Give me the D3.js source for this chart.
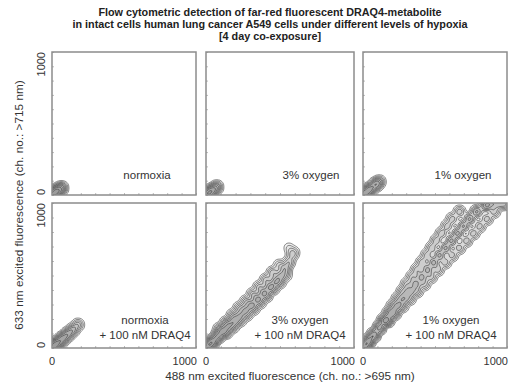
<!DOCTYPE html>
<html>
<head>
<meta charset="utf-8">
<script src="https://cdn.jsdelivr.net/npm/d3@7"></script>
<style>
  body { margin: 0; background: #fff; }
  svg { display: block; font-family: "Liberation Sans", Arial, sans-serif; }
</style>
</head>
<body>
<svg id="chart" width="524" height="385"></svg>
<script>
// ---- data (channel numbers 0..1000) ----
const titleLines = [
  "Flow cytometric detection of far-red fluorescent DRAQ4-metabolite",
  "in intact cells human lung cancer A549 cells under different levels of hypoxia",
  "[4 day co-exposure]"
];
const conditions = ["normoxia", "3% oxygen", "1% oxygen"];
const treatments = ["", "+ 100 nM DRAQ4"];
const tickValues = [0, 1000];
const xTitle = "488 nm excited fluorescence (ch. no.: >695 nm)";
const yTitle = "633 nm excited fluorescence (ch. no.: >715 nm)";

// event clusters: [x ch, y ch, weight]
const ctlNormoxia = [[8, 8, 10], [35, 28, 9], [65, 48, 6]];
const ctl3 = [[8, 5, 10], [40, 30, 9], [72, 55, 5]];
const ctl1 = [[8, 8, 10], [45, 38, 9], [85, 70, 7], [112, 92, 4]];
const draqNormoxia = [[10, 10, 12], [40, 35, 10], [75, 65, 9], [110, 95, 7], [145, 125, 5], [180, 160, 3]];
const draq3 = [
  [15, 15, 10], [45, 45, 9], [80, 80, 8], [115, 115, 7], [150, 150, 6], [190, 185, 6], [230, 225, 5],
  [270, 265, 5], [310, 300, 5], [350, 340, 5], [390, 380, 5], [430, 420, 5], [470, 460, 5], [505, 500, 4],
  [535, 545, 4], [560, 590, 3], [580, 640, 2],
  [90, 130, 3], [135, 175, 3], [180, 225, 3], [225, 275, 3], [270, 320, 3], [315, 370, 3], [360, 420, 3],
  [405, 470, 3], [450, 520, 3], [495, 570, 2],
  [140, 110, 3], [185, 150, 3], [230, 190, 3], [275, 230, 3], [320, 270, 3], [365, 315, 3], [410, 360, 3],
  [455, 410, 3], [500, 455, 3], [540, 500, 2],
  [595, 660, 1.5], [560, 690, 1]
];
const draq1 = [
  [12, 15, 10], [40, 50, 9], [75, 90, 8], [115, 140, 7], [158, 190, 6], [200, 240, 5], [240, 290, 5],
  [282, 340, 5], [324, 390, 5], [365, 440, 5], [407, 490, 5], [448, 540, 5], [490, 590, 5], [531, 640, 5],
  [573, 690, 5], [614, 740, 5], [656, 790, 5], [697, 840, 5], [740, 890, 5], [790, 940, 5], [850, 980, 5],
  [138, 190, 3], [205, 290, 3], [274, 390, 3], [342, 490, 3], [410, 590, 3], [478, 690, 3], [546, 790, 3], [620, 890, 3],
  [178, 190, 3], [275, 290, 3], [374, 390, 3], [472, 490, 3], [570, 590, 3], [668, 690, 3], [766, 790, 3], [860, 890, 3],
  [175, 240, 3], [240, 340, 3], [305, 440, 3], [375, 540, 3], [445, 640, 3], [510, 740, 3], [585, 840, 3], [670, 940, 3],
  [225, 240, 3], [325, 340, 3], [425, 440, 3], [520, 540, 3], [618, 640, 3], [718, 740, 3], [810, 840, 3], [910, 940, 3],
  [880, 995, 4], [930, 995, 4], [980, 995, 4]
];
const panelData = [[ctlNormoxia, ctl3, ctl1], [draqNormoxia, draq3, draq1]];
const levels = [0.005, 0.012, 0.022, 0.035, 0.05, 0.07, 0.095, 0.13, 0.18, 0.25];

// ---- layout ----
const svg = d3.select("#chart");
const cols = [{x: 52, w: 144}, {x: 206, w: 148}, {x: 363, w: 144}];
const rows = [{y: 52, h: 143}, {y: 203, h: 145}];
const labelX = [[95, 105, 100], [93, 94, 88]];

svg.append("g")
  .attr("font-weight", "bold")
  .attr("font-size", 10.8)
  .attr("fill", "#222")
  .attr("text-anchor", "middle")
  .selectAll("text")
  .data(titleLines)
  .join("text")
  .attr("x", 270)
  .attr("y", (d, i) => 15.5 + i * 12.2)
  .text(d => d);

rows.forEach((r, ri) => {
  cols.forEach((c, ci) => {
    const x = d3.scaleLinear().domain([0, 1000]).range([0, c.w]);
    const y = d3.scaleLinear().domain([0, 1000]).range([r.h, 0]);
    const g = svg.append("g").attr("transform", `translate(${c.x},${r.y})`);
    const clipId = "clip" + ri + ci;
    g.append("clipPath").attr("id", clipId)
      .append("rect").attr("width", c.w).attr("height", r.h);

    const contours = d3.contourDensity()
      .x(d => x(d[0]))
      .y(d => y(d[1]))
      .weight(d => d[2])
      .size([c.w, r.h])
      .cellSize(1)
      .bandwidth(3)
      .thresholds(levels)(panelData[ri][ci]);

    g.append("g")
      .attr("clip-path", `url(#${clipId})`)
      .selectAll("path")
      .data(contours)
      .join("path")
      .attr("d", d3.geoPath())
      .attr("fill", "#000")
      .attr("fill-opacity", 0.05)
      .attr("stroke", "#3a3a3a")
      .attr("stroke-width", 0.6);

    // faint ticks along the frame
    const tk = d3.range(0, 1001, 100);
    g.append("g").attr("transform", `translate(0,${r.h})`)
      .call(d3.axisBottom(x).tickValues(tk).tickSize(-2).tickFormat(""))
      .call(a => a.select(".domain").remove())
      .selectAll("line").attr("stroke", "#bbb");
    g.append("g")
      .call(d3.axisLeft(y).tickValues(tk).tickSize(-2).tickFormat(""))
      .call(a => a.select(".domain").remove())
      .selectAll("line").attr("stroke", "#bbb");

    g.append("rect")
      .attr("width", c.w).attr("height", r.h)
      .attr("fill", "none")
      .attr("stroke", "#8c8c8c")
      .attr("stroke-width", 1.5);

    // condition labels
    const lab = g.append("g")
      .attr("font-size", 11.5)
      .attr("fill", "#333")
      .attr("text-anchor", "middle");
    if (ri === 0) {
      lab.append("text").attr("x", labelX[ri][ci]).attr("y", r.h - 16).text(conditions[ci]);
    } else {
      lab.append("text").attr("x", labelX[ri][ci]).attr("y", r.h - 24).text(conditions[ci]);
      lab.append("text").attr("x", labelX[ri][ci]).attr("y", r.h - 9).text(treatments[ri]);
    }

    // y tick labels on the left column
    if (ci === 0) {
      g.append("g")
        .attr("font-size", 11)
        .attr("fill", "#333")
        .selectAll("text")
        .data(tickValues)
        .join("text")
        .attr("transform", d => `translate(-7,${y(d)}) rotate(-90)`)
        .attr("text-anchor", d => d === 0 ? "start" : "end")
        .text(d => d);
    }
    // x tick labels on the bottom row
    if (ri === 1) {
      g.append("g")
        .attr("font-size", 11)
        .attr("fill", "#333")
        .selectAll("text")
        .data(tickValues)
        .join("text")
        .attr("x", d => x(d) + (d === 0 ? 0 : 1))
        .attr("y", r.h + 17)
        .attr("text-anchor", d => d === 0 ? "middle" : "end")
        .text(d => d);
    }
  });
});

svg.append("text")
  .attr("x", 290).attr("y", 380)
  .attr("text-anchor", "middle")
  .attr("font-size", 11.8)
  .attr("fill", "#333")
  .text(xTitle);

svg.append("text")
  .attr("transform", "translate(23,205) rotate(-90)")
  .attr("text-anchor", "middle")
  .attr("font-size", 11.8)
  .attr("fill", "#333")
  .text(yTitle);
</script>
</body>
</html>
